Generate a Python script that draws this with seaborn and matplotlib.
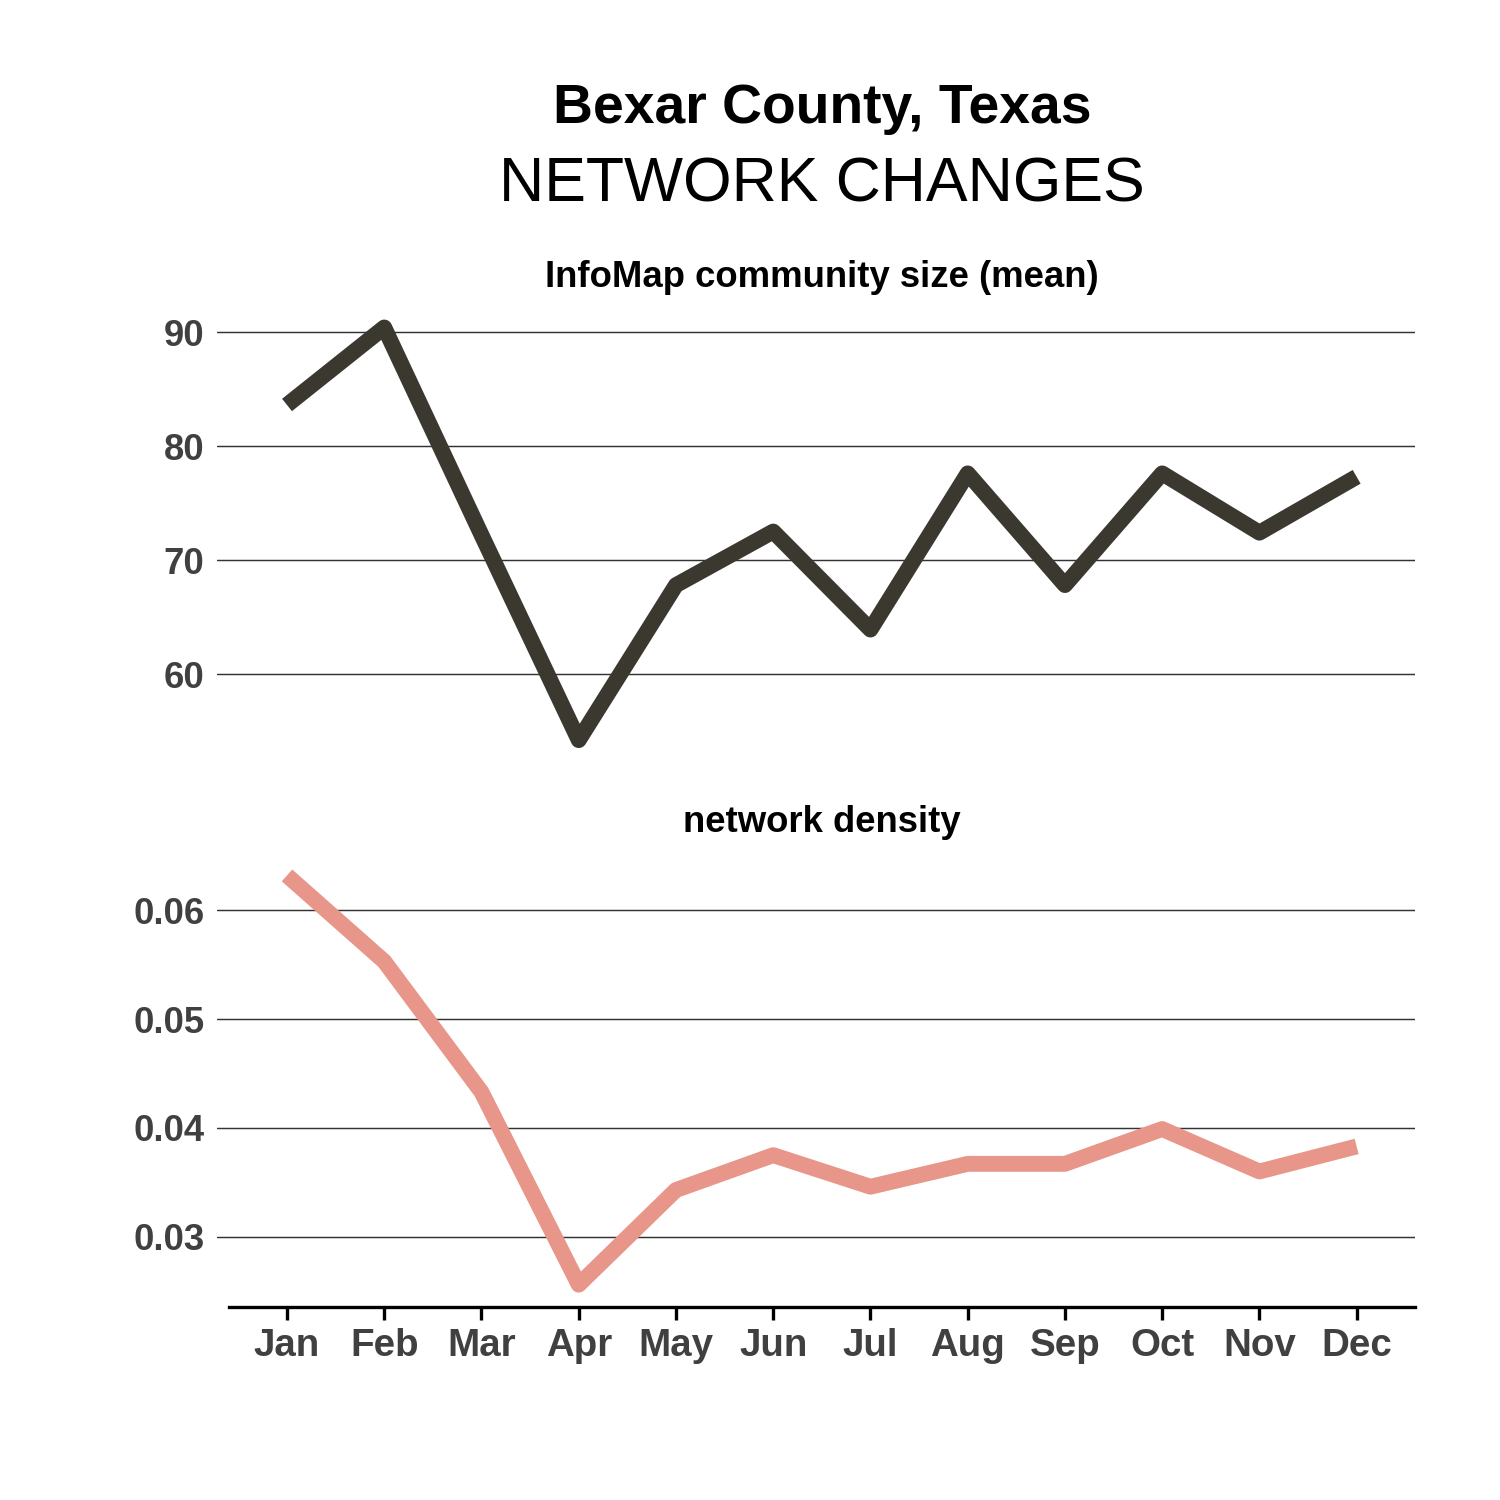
import matplotlib
matplotlib.use("Agg")
import matplotlib.pyplot as plt
import seaborn as sns

# data
months = ["Jan", "Feb", "Mar", "Apr", "May", "Jun", "Jul", "Aug", "Sep", "Oct", "Nov", "Dec"]
community_size = [83.6, 90.4, 72.2, 54.2, 67.8, 72.5, 63.9, 77.6, 67.8, 77.6, 72.4, 77.3]
density = [0.0632, 0.0553, 0.0433, 0.0256, 0.0343, 0.0375, 0.0346, 0.0367, 0.0367, 0.0399, 0.0360, 0.0383]

sns.set_style("white")
plt.rcParams["font.family"] = ["Liberation Sans", "DejaVu Sans"]
plt.rcParams["text.color"] = "black"

fig = plt.figure(figsize=(10, 10), dpi=150)
W = H = 1500.0

def px_axes(left, top, right, bottom):
    return fig.add_axes([left / W, 1 - bottom / H, (right - left) / W, (bottom - top) / H])

ax1 = px_axes(217, 318, 1415, 752)
ax2 = px_axes(217, 858, 1415, 1307)

sns.lineplot(x=months, y=community_size, ax=ax1, color="#3b3830", linewidth=7.6,
             solid_joinstyle="round", solid_capstyle="butt")
sns.lineplot(x=months, y=density, ax=ax2, color="#e8958a", linewidth=7.6,
             solid_joinstyle="round", solid_capstyle="butt")

tick_color = "#404040"
title_x = (822 - 217) / 1198.0

for ax in (ax1, ax2):
    ax.set_xlim(-0.72, 11.6)
    ax.set_xlabel("")
    ax.set_ylabel("")
    ax.grid(axis="y", color="#333333", linewidth=0.7)
    ax.set_axisbelow(True)
    for s in ("left", "right", "top"):
        ax.spines[s].set_visible(False)
    ax.tick_params(axis="y", length=0, labelsize=17.5, labelcolor=tick_color, pad=6)

# top panel
ax1.set_ylim(53.16, 91.23)
ax1.set_yticks([60, 70, 80, 90])
ax1.set_yticklabels(["60", "70", "80", "90"], fontweight="bold")
ax1.spines["bottom"].set_visible(False)
ax1.set_xticks([])
ax1.set_title("InfoMap community size (mean)", fontsize=17.5, fontweight="bold",
              color="black", pad=14.9, x=title_x)

# bottom panel
ax2.set_ylim(0.02355, 0.0648)
ax2.set_yticks([0.03, 0.04, 0.05, 0.06])
ax2.set_yticklabels(["0.03", "0.04", "0.05", "0.06"], fontweight="bold")
ax2.spines["bottom"].set_color("black")
ax2.spines["bottom"].set_linewidth(1.6)
ax2.spines["bottom"].set_bounds(-0.6, 11.6)
ax2.tick_params(axis="x", length=6, width=1.6, color="black", labelsize=18.5,
                labelcolor=tick_color, pad=4, bottom=True)
for lab in ax2.get_xticklabels():
    lab.set_fontweight("bold")
ax2.set_title("network density", fontsize=17.5, fontweight="bold", color="black",
              pad=12.5, x=title_x)

cx = 822 / W
fig.text(cx, 1 - 123 / H, "Bexar County, Texas", ha="center", va="baseline",
         fontsize=26.5, fontweight="bold", color="black")
fig.text(cx, 1 - 202 / H, "NETWORK CHANGES", ha="center", va="baseline",
         fontsize=30, color="black")

fig.savefig("out.png", dpi=150, facecolor="white")
